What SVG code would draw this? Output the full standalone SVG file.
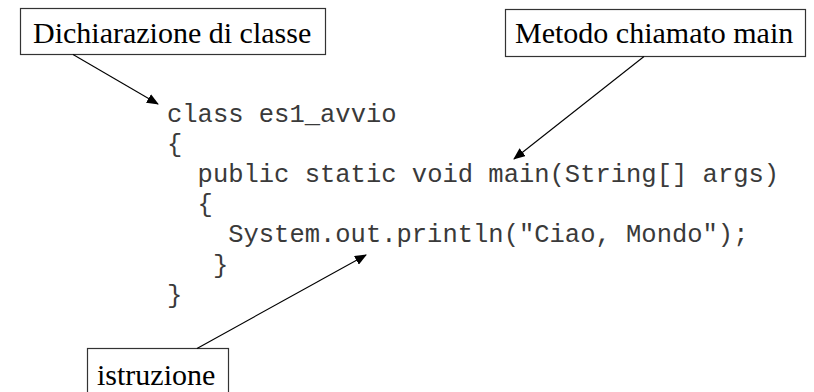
<svg xmlns="http://www.w3.org/2000/svg" width="814" height="392" viewBox="0 0 814 392">
  <style>
    .box { fill: #ffffff; stroke: #333333; stroke-width: 1.2; }
    .label { font-family: "Liberation Serif", "Times New Roman", serif; font-size: 30px; fill: #000000; }
    .code { font-family: "Liberation Mono", "Courier New", monospace; font-size: 25.5px; fill: #3a3a3a; white-space: pre; }
    .conn { stroke: #000000; stroke-width: 1.1; fill: none; marker-end: url(#arrow); }
  </style>
  <defs>
    <marker id="arrow" viewBox="0 0 12 10" refX="11" refY="5" markerWidth="12" markerHeight="10" markerUnits="userSpaceOnUse" orient="auto">
      <path d="M0,0 L12,5 L0,10 Z" fill="#000000"/>
    </marker>
  </defs>
  <rect width="814" height="392" fill="#ffffff"/>

  <!-- Java source listing -->
  <g id="code">
    <text class="code" x="167" y="121.5" xml:space="preserve">class es1_avvio</text>
    <text class="code" x="167" y="151.7" xml:space="preserve">{</text>
    <text class="code" x="197.6" y="181.9" xml:space="preserve">public static void main(String[] args)</text>
    <text class="code" x="197.6" y="212.1" xml:space="preserve">{</text>
    <text class="code" x="228.2" y="242.3" xml:space="preserve">System.out.println("Ciao, Mondo");</text>
    <text class="code" x="212.9" y="272.5" xml:space="preserve">}</text>
    <text class="code" x="167" y="302.7" xml:space="preserve">}</text>
  </g>

  <!-- Callout labels -->
  <g id="node-dichiarazione">
    <rect class="box" x="20.5" y="8.5" width="305" height="46"/>
    <text class="label" x="33" y="43">Dichiarazione di classe</text>
  </g>
  <g id="node-metodo">
    <rect class="box" x="505.5" y="9.5" width="300" height="47"/>
    <text class="label" x="515" y="43">Metodo chiamato main</text>
  </g>
  <g id="node-istruzione">
    <rect class="box" x="87.5" y="348.5" width="141" height="50"/>
    <text class="label" x="97" y="385">istruzione</text>
  </g>

  <!-- Pointers from labels into the code -->
  <g id="connectors">
    <line class="conn" x1="73" y1="54.5" x2="158" y2="104"/>
    <line class="conn" x1="644" y1="56.5" x2="514" y2="159"/>
    <line class="conn" x1="197" y1="348.5" x2="366" y2="255"/>
  </g>
</svg>
